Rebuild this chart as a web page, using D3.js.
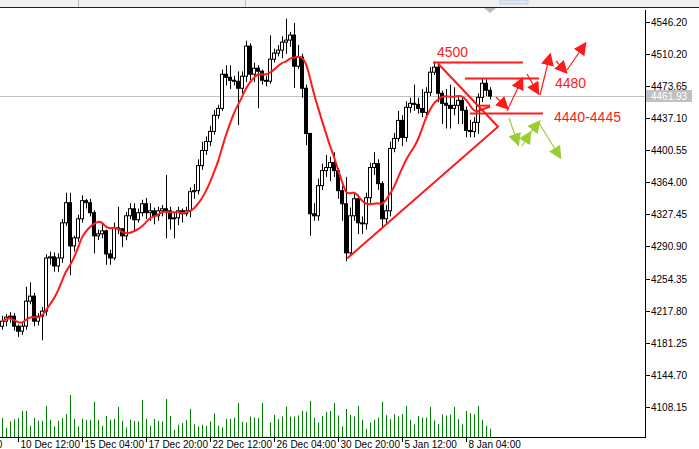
<!DOCTYPE html>
<html>
<head>
<meta charset="utf-8">
<script src="https://cdn.jsdelivr.net/npm/d3@7"></script>
<style>
  body { margin: 0; background: #fff; }
  svg { display: block; font-family: "Liberation Sans", Arial, sans-serif; }
</style>
</head>
<body>
<svg width="699" height="449"></svg>
<script>
// H4 candles, oldest first
const firstOpen = 4200.0;
const closes = [4205.8,4210.4,4211.5,4200.1,4194.4,4200.1,4228.6,4234.3,4205.8,4211.5,
  4217.2,4277.7,4279.0,4268.6,4277.7,4317.7,4340.6,4291.4,4300.6,4322.3,
  4342.9,4340.6,4329.2,4302.9,4305.2,4308.6,4282.3,4277.7,4312.0,4310.9,
  4302.9,4325.7,4333.7,4321.2,4329.2,4339.4,4329.2,4331.4,4325.7,4331.4,
  4333.7,4331.4,4322.3,4323.4,4331.4,4328.0,4331.4,4353.1,4354.3,4382.8,
  4400.0,4410.2,4421.7,4440.0,4447.9,4486.8,4483.3,4479.9,4478.8,4470.8,
  4484.5,4518.8,4486.8,4493.6,4490.2,4479.9,4478.8,4503.9,4510.8,4514.2,
  4523.3,4525.6,4531.3,4495.9,4506.2,4470.8,4419.4,4328.0,4325.7,4360.0,
  4377.1,4380.6,4386.3,4377.1,4354.3,4339.4,4283.5,4325.7,4345.1,4317.7,
  4316.6,4346.3,4380.6,4385.1,4362.3,4322.3,4331.4,4402.3,4413.7,4434.2,
  4414.9,4449.1,4453.7,4452.5,4447.9,4443.4,4466.2,4489.1,4494.8,4465.1,
  4453.7,4451.4,4447.9,4451.4,4457.1,4445.7,4422.8,4421.5,4432.0,4460.5,
  4476.5,4468.5,4461.9];
const highs = [4212,4214,4216,4215,4202,4205,4245,4250,4238,4215,
  4222,4282,4285,4284,4283,4322,4352,4352,4303,4327,
  4349,4345,4345,4332,4310,4318,4310,4287,4318,4336,
  4312,4330,4340,4340,4334,4344,4346,4340,4335,4336,
  4338,4372,4336,4330,4336,4334,4336,4358,4362,4390,
  4410,4416,4428,4446,4452,4492,4497,4497,4485,4490,
  4490,4525,4522,4500,4497,4492,4485,4531,4516,4520,
  4530,4550,4535,4545,4520,4510,4475,4420,4340,4368,
  4385,4395,4393,4398,4380,4360,4370,4335,4352,4350,
  4325,4352,4386,4398,4390,4365,4338,4410,4420,4445,
  4440,4456,4460,4475,4460,4470,4472,4495,4501,4500,
  4468,4470,4475,4472,4462,4462,4450,4435,4438,4465,
  4482,4481,4472];
const lows = [4196,4200,4204,4195,4188,4190,4196,4225,4200,4201,
  4184,4212,4270,4262,4262,4272,4314,4258,4285,4296,
  4318,4334,4325,4283,4298,4300,4270,4270,4275,4305,
  4290,4298,4322,4308,4318,4325,4322,4320,4316,4320,
  4325,4300,4310,4300,4315,4318,4325,4324,4345,4350,
  4378,4395,4405,4418,4436,4445,4474,4470,4474,4429,
  4465,4478,4480,4478,4448,4475,4473,4476,4500,4507,
  4505,4510,4518,4471,4493,4460,4406,4303,4320,4320,
  4355,4370,4365,4370,4345,4320,4274,4280,4320,4305,
  4305,4310,4340,4372,4355,4312,4316,4325,4398,4410,
  4405,4410,4443,4445,4442,4438,4440,4462,4486,4455,
  4430,4425,4425,4440,4430,4430,4415,4415,4415,4419,
  4455,4462,4458];
const volumes = [57,27,47,54,57,79,79,34,57,49,
  49,94,52,32,49,57,70,127,55,32,
  55,52,52,106,52,34,64,52,55,91,
  49,29,52,49,47,112,55,34,55,49,
  47,115,64,22,37,42,52,85,39,32,
  37,34,47,72,34,29,54,55,59,103,
  46,44,62,59,57,103,1,44,67,54,
  62,92,62,62,65,79,77,109,58,44,
  64,76,79,103,65,32,85,67,62,94,
  52,25,44,52,59,106,66,54,69,62,
  70,94,52,38,64,59,59,91,50,39,
  68,65,68,91,54,38,79,72,69,94,
  52,34,25];
const opens = closes.map((c, i) => i === 0 ? firstOpen : closes[i - 1]);

const priceTicks = [4546.20,4510.20,4473.65,4437.10,4400.55,4364.00,4327.45,4290.90,4254.35,4217.80,4181.25,4144.70,4108.15];
const timeLabels = ["8 Dec 20:00","10 Dec 12:00","15 Dec 04:00","17 Dec 20:00","22 Dec 12:00","26 Dec 04:00","30 Dec 20:00","5 Jan 12:00","8 Jan 04:00"];
const timeIndex = [-14,4,20,36,52,68,84,100,116];
const lastPrice = 4461.93;
const maPeriod = 10;

const plotRight = 645, plotTop = 10, plotBottom = 437;
const red = "#ff1a1a", green = "#9acd32";

const svg = d3.select("svg");
const x = d3.scaleLinear().domain([0, 1]).range([2, 6]);
const y = d3.scaleLinear().domain([4108.15, 4546.20]).range([407, 22]);
const vy = d3.scaleLinear().domain([0, d3.max(volumes)]).range([plotBottom, plotBottom - 42]);

// top toolbar strip
svg.append("rect").attr("width", 699).attr("height", 7).attr("fill", "#f0f0f0");
svg.append("line").attr("x1", 0).attr("x2", 699).attr("y1", 7.5).attr("y2", 7.5).attr("stroke", "#222");
[78, 245].forEach(v => svg.append("line").attr("x1", v + .5).attr("x2", v + .5).attr("y1", 0).attr("y2", 7).attr("stroke", "#bbb"));
svg.append("rect").attr("x", 500).attr("y", 0).attr("width", 28).attr("height", 4).attr("fill", "#dde8f5").attr("stroke", "#c0cfe0");
svg.append("path").attr("d", "M484,8 L496,8 L490,13 Z").attr("fill", "#bbb");

// current price line
svg.append("line").attr("x1", 0).attr("x2", plotRight).attr("y1", Math.round(y(lastPrice)) + .5).attr("y2", Math.round(y(lastPrice)) + .5).attr("stroke", "#c0c0c0");

// volumes
svg.append("g").selectAll("line").data(volumes).join("line")
  .attr("x1", (d, i) => Math.round(x(i)) + .5).attr("x2", (d, i) => Math.round(x(i)) + .5)
  .attr("y1", plotBottom).attr("y2", d => vy(d))
  .attr("stroke", "#008000");

// candles
const idx = d3.range(closes.length);
const cg = svg.append("g");
cg.selectAll("line").data(idx).join("line")
  .attr("x1", i => Math.round(x(i)) + .5).attr("x2", i => Math.round(x(i)) + .5)
  .attr("y1", i => y(highs[i])).attr("y2", i => y(lows[i]))
  .attr("stroke", "#000");
cg.selectAll("rect").data(idx).join("rect")
  .attr("x", i => Math.round(x(i)) - 1.5)
  .attr("width", 3)
  .attr("y", i => y(Math.max(opens[i], closes[i])))
  .attr("height", i => Math.max(1, Math.abs(y(opens[i]) - y(closes[i]))))
  .attr("fill", i => closes[i] >= opens[i] ? "#fff" : "#000")
  .attr("stroke", "#000").attr("stroke-width", 1);

// moving average
const ma = idx.map(i => d3.mean(closes.slice(Math.max(0, i - maPeriod + 1), i + 1)));
svg.append("path").datum(ma)
  .attr("d", d3.line().x((d, i) => x(i)).y(d => y(d)).curve(d3.curveBasis))
  .attr("fill", "none").attr("stroke", red).attr("stroke-width", 2);

// axes frame
svg.append("line").attr("x1", plotRight + .5).attr("x2", plotRight + .5).attr("y1", plotTop).attr("y2", plotBottom + 1).attr("stroke", "#000");
svg.append("line").attr("x1", 0).attr("x2", plotRight + 1).attr("y1", plotBottom + .5).attr("y2", plotBottom + .5).attr("stroke", "#000");

const ya = svg.append("g").attr("font-size", 10).attr("fill", "#000");
priceTicks.forEach(p => {
  const py = Math.round(y(p)) + .5;
  ya.append("line").attr("x1", plotRight).attr("x2", plotRight + 5).attr("y1", py).attr("y2", py).attr("stroke", "#000");
  ya.append("text").attr("x", 651).attr("y", py + 3.5).text(p.toFixed(2));
});
const lp = Math.round(y(lastPrice));
ya.append("rect").attr("x", plotRight + 1).attr("y", lp - 6).attr("width", 46).attr("height", 12).attr("fill", "#c0c0c0");
ya.append("text").attr("x", 651).attr("y", lp + 3.5).attr("fill", "#fff").text(lastPrice.toFixed(2));

const xa = svg.append("g").attr("font-size", 10);
timeIndex.forEach((t, k) => {
  const tx = Math.round(x(t)) + .5;
  xa.append("line").attr("x1", tx).attr("x2", tx).attr("y1", plotBottom).attr("y2", plotBottom + 5).attr("stroke", "#000");
  xa.append("text").attr("x", tx + 2).attr("y", 448).text(timeLabels[k]);
});

// annotations
const defs = svg.append("defs");
[["ar", red], ["ag", green]].forEach(([id, c]) => {
  defs.append("marker").attr("id", id).attr("viewBox", "0 0 10 10").attr("refX", 8).attr("refY", 5)
    .attr("markerWidth", 13).attr("markerHeight", 13).attr("markerUnits", "userSpaceOnUse").attr("orient", "auto")
    .append("path").attr("d", "M0,0 L10,5 L0,10 Z").attr("fill", c);
});
const ann = svg.append("g").attr("stroke", red).attr("stroke-width", 2).attr("fill", "none");
ann.append("line").attr("x1", 433).attr("x2", 523).attr("y1", y(4500)).attr("y2", y(4500));
ann.append("line").attr("x1", 465).attr("x2", 539).attr("y1", y(4482)).attr("y2", y(4482));
ann.append("line").attr("x1", 470).attr("x2", 543).attr("y1", y(4442)).attr("y2", y(4442));
ann.append("line").attr("x1", 478).attr("x2", 490).attr("y1", y(4451)).attr("y2", y(4451));
ann.append("path").attr("d", `M438,${y(4499)} L498,${y(4427)} L347,${y(4277)}`);

const arrows = svg.append("g").attr("stroke-width", 1.2).attr("fill", "none");
const redArrows = [[[496,97],[507,108]],[[507,111],[522,79]],[[527,74],[538,93]],[[540,95],[550,55]],[[556,61],[566,72]],[[567,70],[585,44]]];
const greenArrows = [[[509,118],[518,144]],[[522,146],[530,133]],[[530,133],[539,122]],[[539,123],[560,157]]];
redArrows.forEach(([a, b]) => arrows.append("line").attr("x1", a[0]).attr("y1", a[1]).attr("x2", b[0]).attr("y2", b[1]).attr("stroke", red).attr("marker-end", "url(#ar)"));
greenArrows.forEach(([a, b]) => arrows.append("line").attr("x1", a[0]).attr("y1", a[1]).attr("x2", b[0]).attr("y2", b[1]).attr("stroke", green).attr("marker-end", "url(#ag)"));

const lab = svg.append("g").attr("fill", red).attr("font-size", 14);
lab.append("text").attr("x", 437).attr("y", 57).text("4500");
lab.append("text").attr("x", 555).attr("y", 88).text("4480");
lab.append("text").attr("x", 554).attr("y", 122).text("4440-4445");
</script>
</body>
</html>
